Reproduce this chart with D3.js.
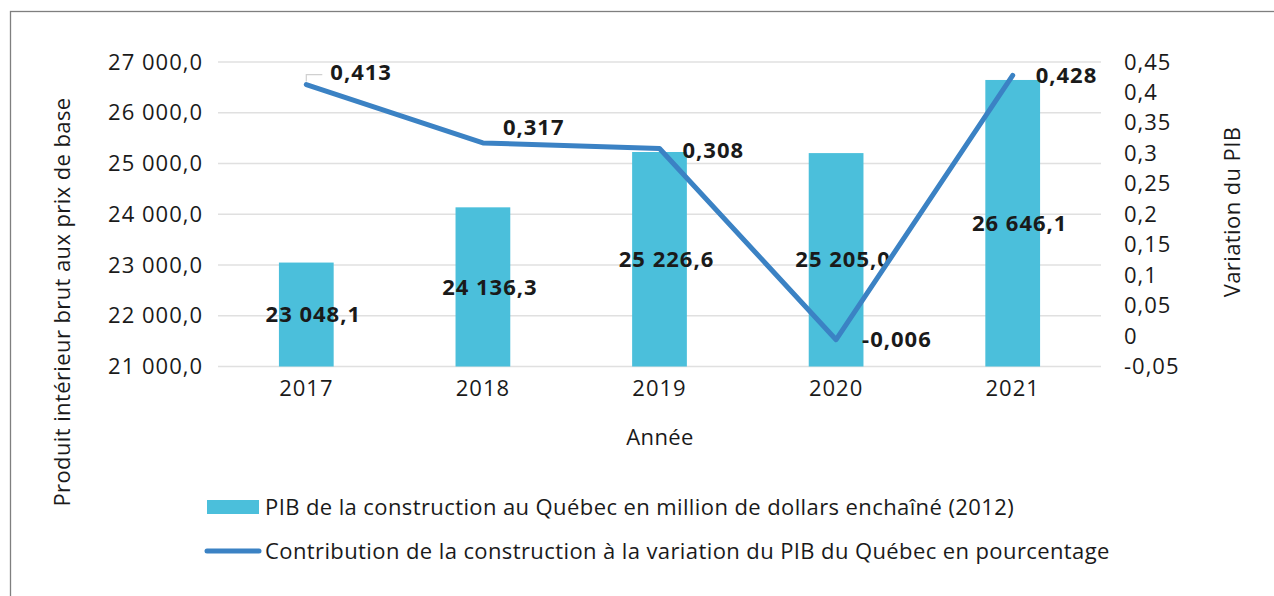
<!DOCTYPE html>
<html><head><meta charset="utf-8">
<script src="https://cdn.jsdelivr.net/npm/d3@7"></script>
<style>
html,body{margin:0;padding:0;background:#fff;}
svg{display:block;}
text{font-family:"Open Sans","Noto Sans",sans-serif;fill:#1a1a1a;}
</style></head>
<body><svg id="c" width="1274" height="596"></svg>
<script>
const years = ["2017","2018","2019","2020","2021"];
const pib = [23048.1, 24136.3, 25226.6, 25205.0, 26646.1];
const pibLabels = ["23 048,1","24 136,3","25 226,6","25 205,0","26 646,1"];
const contrib = [0.413, 0.317, 0.308, -0.006, 0.428];
const contribLabels = ["0,413","0,317","0,308","-0,006","0,428"];
const leftTicks = [21000,22000,23000,24000,25000,26000,27000];
const rightTicks = [-0.05,0,0.05,0.1,0.15,0.2,0.25,0.3,0.35,0.4,0.45];
const legendLabels = ["PIB de la construction au Québec en million de dollars enchaîné (2012)",
  "Contribution de la construction à la variation du PIB du Québec en pourcentage"];

const svg = d3.select("#c");
const L = 218, R = 1101, T = 62, B = 366.5;
const barColor = "#4BBFDB", lineColor = "#3B82C4";
const FS = 22, NUMLS = "1px", TXTLS = "0.4px";

svg.append("rect").attr("x",10.5).attr("y",11.5).attr("width",1300).attr("height",700)
  .attr("fill","none").attr("stroke","#7f7f7f").attr("stroke-width",1.3);

const x = d3.scaleBand().domain(years).range([L,R]).paddingInner(0.69).paddingOuter(0.345);
const y = d3.scaleLinear().domain([21000,27000]).range([B,T]);
const y2 = d3.scaleLinear().domain([-0.05,0.45]).range([B,T]);

// gridlines
svg.append("g").selectAll("line").data(leftTicks).join("line")
  .attr("x1",L).attr("x2",R).attr("y1",d=>y(d)).attr("y2",d=>y(d))
  .attr("stroke","#e0e0e0").attr("stroke-width",1.5);

const fmtL = d => d3.format(",.1f")(d).replace(",", " ").replace(".", ",");
const fmtR = d => String(+d.toFixed(2)).replace(".", ",");

// left axis
const gL = svg.append("g").attr("transform",`translate(${L},0)`)
  .call(d3.axisLeft(y).tickValues(leftTicks).tickFormat(fmtL).tickSize(0).tickPadding(15));
gL.select(".domain").remove();
gL.selectAll("text").style("font-size",FS+"px").style("font-family",null).style("letter-spacing",NUMLS);

// right axis
const gR = svg.append("g").attr("transform",`translate(${R},0)`)
  .call(d3.axisRight(y2).tickValues(rightTicks).tickFormat(fmtR).tickSize(0).tickPadding(23));
gR.select(".domain").remove();
gR.selectAll("text").style("font-size",FS+"px").style("font-family",null).style("letter-spacing",NUMLS);

// bars
svg.append("g").selectAll("rect").data(pib).join("rect")
  .attr("x",(d,i)=>x(years[i])).attr("width",x.bandwidth())
  .attr("y",d=>y(d)).attr("height",d=>B-y(d)).attr("fill",barColor);

// x axis
const gX = svg.append("g").attr("transform",`translate(0,${B})`)
  .call(d3.axisBottom(x).tickSize(0).tickPadding(14));
gX.select(".domain").remove();
gX.selectAll("text").style("font-size",FS+"px").style("font-family",null).style("letter-spacing",NUMLS);

// bar labels
const barLabelDx = 7;
svg.append("g").selectAll("text").data(pib).join("text")
  .attr("x",(d,i)=>x(years[i])+x.bandwidth()/2+barLabelDx)
  .attr("y",d=>(y(d)+B)/2).attr("dy","0.35em")
  .attr("text-anchor","middle").style("font-size",FS+"px").style("font-weight","bold")
  .style("letter-spacing",NUMLS)
  .text((d,i)=>pibLabels[i]);

// line
const cx = i => x(years[i]) + x.bandwidth()/2;
svg.append("path").datum(contrib)
  .attr("d", d3.line().x((d,i)=>cx(i)).y(d=>y2(d)))
  .attr("fill","none").attr("stroke",lineColor).attr("stroke-width",5)
  .attr("stroke-linejoin","round").attr("stroke-linecap","round");

// leader for first label
svg.append("path")
  .attr("d",`M${cx(0)},${y2(contrib[0])-3} L${cx(0)},${y2(contrib[0])-10} L${cx(0)+16},${y2(contrib[0])-10}`)
  .attr("fill","none").attr("stroke","#d0d0d0").attr("stroke-width",1.2);

// line labels
const lblDx = [24, 20, 23, 26, 23];
const lblDy = [-12, -16, 2, 0, 0];
svg.append("g").selectAll("text").data(contrib).join("text")
  .attr("x",(d,i)=>cx(i)+lblDx[i]).attr("y",(d,i)=>y2(d)+lblDy[i]).attr("dy","0.35em")
  .style("font-size",FS+"px").style("font-weight","bold").style("letter-spacing",NUMLS)
  .text((d,i)=>contribLabels[i]);

// axis titles
svg.append("text").attr("transform","translate(62,302) rotate(-90)").attr("text-anchor","middle")
  .attr("dy","0.35em").style("font-size",FS+"px").style("letter-spacing",TXTLS)
  .text("Produit intérieur brut aux prix de base");
svg.append("text").attr("transform","translate(1232,212) rotate(-90)").attr("text-anchor","middle")
  .attr("dy","0.35em").style("font-size",FS+"px").style("letter-spacing",TXTLS).text("Variation du PIB");
svg.append("text").attr("x",660).attr("y",437).attr("dy","0.35em").attr("text-anchor","middle")
  .style("font-size",FS+"px").style("letter-spacing",TXTLS).text("Année");

// legend
const lg = svg.append("g");
lg.append("rect").attr("x",207).attr("y",500).attr("width",52).attr("height",14).attr("fill",barColor);
lg.append("line").attr("x1",207).attr("x2",259).attr("y1",551).attr("y2",551)
  .attr("stroke",lineColor).attr("stroke-width",5).attr("stroke-linecap","round");
lg.selectAll("text").data(legendLabels).join("text")
  .attr("x",265).attr("y",(d,i)=>507+i*44).attr("dy","0.35em")
  .style("font-size",FS+"px").style("letter-spacing",TXTLS).text(d=>d);
</script></body></html>
